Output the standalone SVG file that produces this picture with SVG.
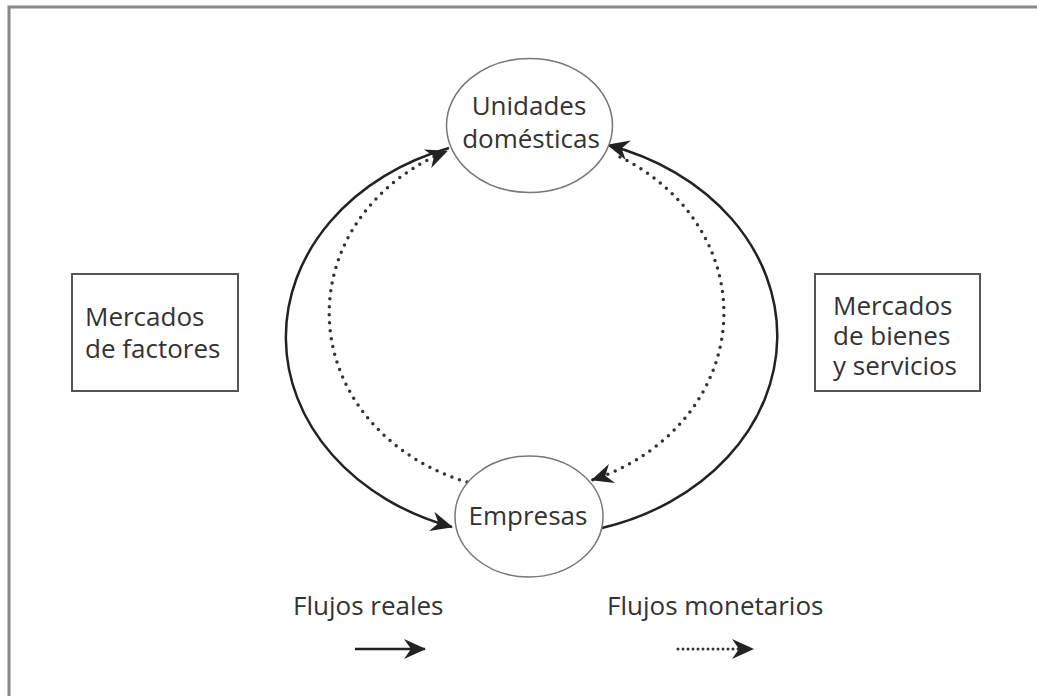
<svg xmlns="http://www.w3.org/2000/svg" width="1037" height="696" viewBox="0 0 1037 696">
  <style>
    .txt { font-family: "Open Sans", "Liberation Sans", sans-serif; font-size: 26px; fill: #333; }
    .mid { text-anchor: middle; }
    .node { fill: #fff; stroke: #777; stroke-width: 1.5; }
    .box { fill: #fff; stroke: #555; stroke-width: 2; }
    .solid { fill: none; stroke: #222; stroke-width: 2.5; }
    .dotted { fill: none; stroke: #333; stroke-width: 3.5; stroke-linecap: round; stroke-dasharray: 0 8; }
  </style>
  <defs>
    <marker id="barb" viewBox="-23 -12 26 24" refX="0" refY="0" markerWidth="26" markerHeight="24" markerUnits="userSpaceOnUse" orient="auto">
      <path d="M1,0 L-21,-10 L-14,0 L-21,10 Z" fill="#222"/>
    </marker>
  </defs>
  <rect x="9" y="7" width="1100" height="760" fill="#fff" stroke="#888" stroke-width="3"/>

  <g id="connectors">
    <path class="solid" d="M449,148 A242,200 0 0 0 452,527" marker-end="url(#barb)"/>
    <path class="dotted" d="M467,482 A201,178 0 0 1 447,151" marker-end="url(#barb)"/>
    <path class="solid" d="M602,528 A242,200 0 0 0 608,145" marker-end="url(#barb)"/>
    <path class="dotted" d="M620,157 A201,178 0 0 1 592,480" marker-end="url(#barb)"/>
  </g>

  <g id="unidades">
    <ellipse class="node" cx="529.5" cy="125.5" rx="83" ry="67"/>
    <text class="txt mid" x="529" y="115">Unidades</text>
    <text class="txt mid" x="531" y="148">domésticas</text>
  </g>
  <g id="empresas">
    <ellipse class="node" cx="529" cy="516.5" rx="74" ry="60.5"/>
    <text class="txt mid" x="528" y="525">Empresas</text>
  </g>
  <g id="mercados-factores">
    <rect class="box" x="72" y="274" width="166" height="117"/>
    <text class="txt" x="85" y="326">Mercados</text>
    <text class="txt" x="85" y="358">de factores</text>
  </g>
  <g id="mercados-bienes">
    <rect class="box" x="815" y="274" width="165" height="117"/>
    <text class="txt" x="833" y="315">Mercados</text>
    <text class="txt" x="833" y="345">de bienes</text>
    <text class="txt" x="833" y="375">y servicios</text>
  </g>
  <g id="leyenda-reales">
    <text class="txt" x="293" y="615">Flujos reales</text>
    <path class="solid" d="M355,649 L425,649" marker-end="url(#barb)"/>
  </g>
  <g id="leyenda-monetarios">
    <text class="txt" x="607" y="615">Flujos monetarios</text>
    <path class="dotted" style="stroke-width:3;stroke-dasharray:0 5" d="M678,649 L753,649" marker-end="url(#barb)"/>
  </g>
</svg>
